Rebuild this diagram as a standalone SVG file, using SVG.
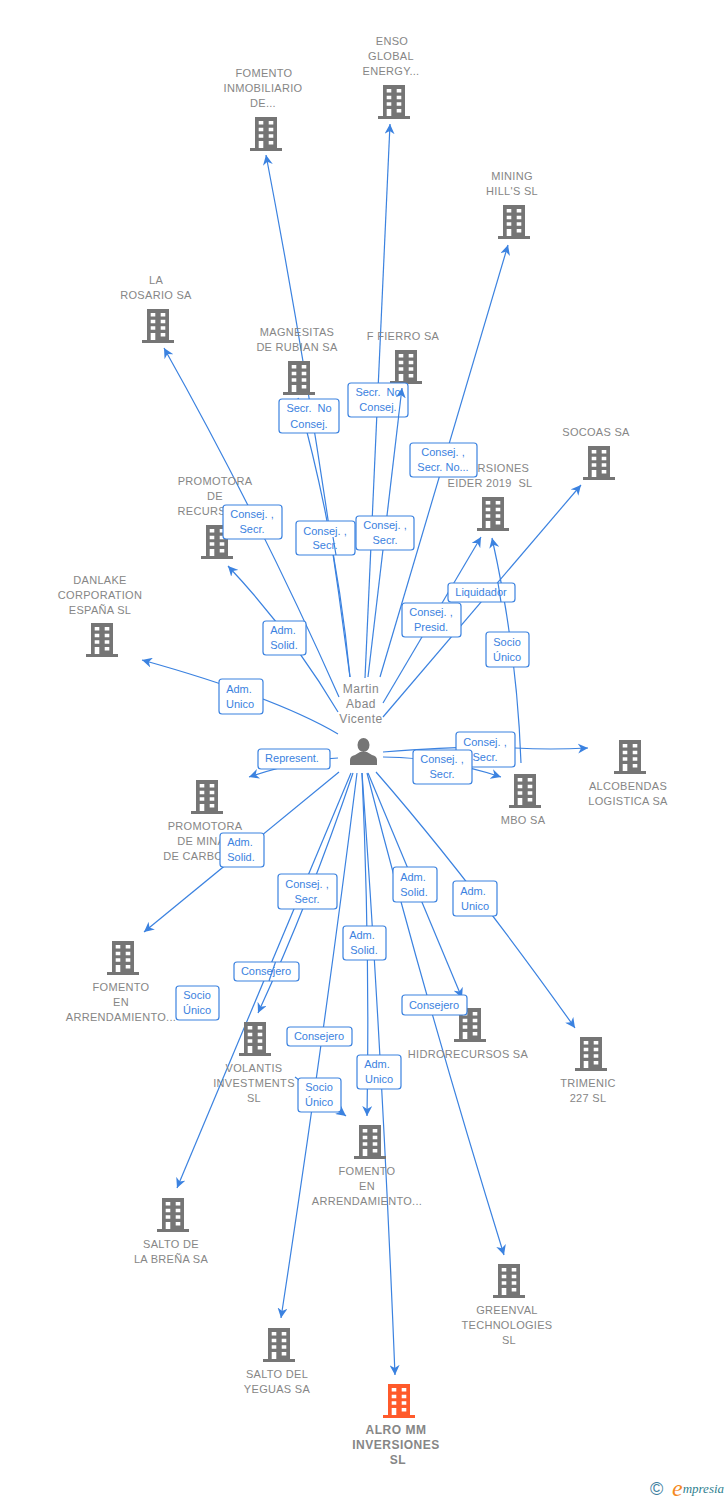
<svg xmlns="http://www.w3.org/2000/svg" width="728" height="1500" viewBox="0 0 728 1500">
<style>
.e{fill:none;stroke:#3b82e0;stroke-width:1.2;marker-end:url(#a)}
.s{fill:none;stroke:#3b82e0;stroke-width:1.2}
.l rect{fill:#fff;stroke:#3b82e0;stroke-width:1.2}
.l text{font:11px "Liberation Sans",Arial,sans-serif;fill:#3b82e0;text-anchor:middle;white-space:pre}
.n text{font:11px "Liberation Sans",Arial,sans-serif;fill:#868686;text-anchor:middle;letter-spacing:.3px;white-space:pre}
.n use{fill:#757575}
#alro text{font-weight:bold;font-size:12px;letter-spacing:.5px}
#alro use{fill:#ff5a2b}
#person text{font-size:12px;letter-spacing:.5px}
#person .p{fill:#757575}
</style>
<defs>
<marker id="a" markerUnits="userSpaceOnUse" markerWidth="11" markerHeight="10" refX="10" refY="5" orient="auto"><path d="M10,5 L0,0 L3,5 L0,10 z" fill="#3b82e0"/></marker>
<symbol id="b" width="32" height="34" viewBox="0 0 32 34" overflow="visible">
<path d="M5,0H27V31H32V34H0V31H5Z"/>
<path fill="#fff" d="M8.700,4h4.600v3.500h-4.600zM18.700,4h4.600v3.500h-4.600zM8.700,10.700h4.600v3.500h-4.600zM18.700,10.700h4.600v3.500h-4.600zM8.700,17.300h4.600v3.500h-4.600zM18.700,17.300h4.600v3.500h-4.600zM18.700,24h4.600v3.500h-4.600zM8.700,24h4.600v7h-4.600z"/>
</symbol>
</defs>
<g id="connectors">
<path class="e" d="M365,678 L390,124"/>
<path class="e" d="M368,677 L402,388"/>
<path class="e" d="M350,677 Q316,416 266,155"/>
<path class="e" d="M350,677 Q337,540 298,398"/>
<path class="e" d="M339,697 Q259,517 164,348"/>
<path class="e" d="M338,712 Q291,633 228,566"/>
<path class="e" d="M338,734 Q275,697 142,660"/>
<path class="e" d="M338,758 Q300,760 249,777"/>
<path class="e" d="M339,772 L144,932"/>
<path class="e" d="M383,757 Q440,757 501,777"/>
<path class="e" d="M383,752 Q470,745 515,748 Q550,750 588,748"/>
<path class="e" d="M380,677 L508,245"/>
<path class="e" d="M383,703 L481,537"/>
<path class="e" d="M383,717 L581,485"/>
<path class="e" d="M521,763 Q517,650 492,538"/>
<path class="e" d="M376,772 Q470,880 575,1028"/>
<path class="e" d="M368,773 L462,998"/>
<path class="e" d="M367,773 Q425,1000 504,1255"/>
<path class="e" d="M362,773 Q382,1050 395,1375"/>
<path class="e" d="M362,773 Q370,950 367,1116"/>
<path class="e" d="M357,773 Q325,1030 281,1318"/>
<path class="e" d="M295,1077 L346,1116"/>
<path class="e" d="M353,773 Q310,900 258,1013"/>
<path class="e" d="M351,773 L177,1188"/>
</g>
<g id="nodes">
<g class="n" id="enso"><use href="#b" x="378" y="85"/><text x="392" y="45">ENSO</text><text x="391" y="60">GLOBAL</text><text x="391" y="75">ENERGY...</text></g>
<g class="n" id="fomento-inmob"><use href="#b" x="250" y="117"/><text x="264" y="77">FOMENTO</text><text x="263" y="92">INMOBILIARIO</text><text x="263" y="107">DE...</text></g>
<g class="n" id="mining"><use href="#b" x="498" y="205"/><text x="512" y="180">MINING</text><text x="512" y="195">HILL'S SL</text></g>
<g class="n" id="rosario"><use href="#b" x="142" y="309"/><text x="156" y="284">LA</text><text x="156" y="299">ROSARIO SA</text></g>
<g class="n" id="magnesitas"><use href="#b" x="283" y="361"/><text x="297" y="336">MAGNESITAS</text><text x="297" y="351">DE RUBIAN SA</text></g>
<g class="n" id="fierro"><use href="#b" x="390" y="350"/><text x="403" y="340">F FIERRO SA</text></g>
<g class="n" id="eider"><use href="#b" x="477" y="497"/><text x="490" y="472">INVERSIONES</text><text x="490" y="487">EIDER 2019  SL</text></g>
<g class="n" id="socoas"><use href="#b" x="583" y="446"/><text x="596" y="436">SOCOAS SA</text></g>
<g class="n" id="recursos"><use href="#b" x="201" y="525"/><text x="215" y="485">PROMOTORA</text><text x="215" y="500">DE</text><text x="215" y="515">RECURSOS...</text></g>
<g class="n" id="danlake"><use href="#b" x="86" y="623"/><text x="100" y="584">DANLAKE</text><text x="100" y="599">CORPORATION</text><text x="100" y="614">ESPAÑA SL</text></g>
<g class="n" id="alcobendas"><use href="#b" x="614" y="740"/><text x="628" y="790">ALCOBENDAS</text><text x="628" y="805">LOGISTICA SA</text></g>
<g class="n" id="mbo"><use href="#b" x="509" y="774"/><text x="523" y="824">MBO SA</text></g>
<g class="n" id="minas"><use href="#b" x="191" y="780"/><text x="205" y="830">PROMOTORA</text><text x="205" y="845">DE MINAS</text><text x="205" y="860">DE CARBONES</text></g>
<g class="n" id="arrend1"><use href="#b" x="107" y="941"/><text x="121" y="991">FOMENTO</text><text x="121" y="1006">EN</text><text x="121" y="1021">ARRENDAMIENTO...</text></g>
<g class="n" id="volantis"><use href="#b" x="239" y="1022"/><text x="254" y="1072">VOLANTIS</text><text x="254" y="1087">INVESTMENTS</text><text x="254" y="1102">SL</text></g>
<g class="n" id="hidro"><use href="#b" x="454" y="1008"/><text x="468" y="1058">HIDRORECURSOS SA</text></g>
<g class="n" id="trimenic"><use href="#b" x="575" y="1037"/><text x="588" y="1087">TRIMENIC</text><text x="588" y="1102">227 SL</text></g>
<g class="n" id="arrend2"><use href="#b" x="354" y="1125"/><text x="367" y="1175">FOMENTO</text><text x="367" y="1190">EN</text><text x="367" y="1205">ARRENDAMIENTO...</text></g>
<g class="n" id="brena"><use href="#b" x="157" y="1198"/><text x="171" y="1248">SALTO DE</text><text x="171" y="1263">LA BREÑA SA</text></g>
<g class="n" id="greenval"><use href="#b" x="493" y="1264"/><text x="507" y="1314">GREENVAL</text><text x="507" y="1329">TECHNOLOGIES</text><text x="509" y="1344">SL</text></g>
<g class="n" id="yeguas"><use href="#b" x="263" y="1328"/><text x="277" y="1378">SALTO DEL</text><text x="277" y="1393">YEGUAS SA</text></g>
<g class="n" id="alro"><use href="#b" x="383" y="1384"/><text x="396" y="1434">ALRO MM</text><text x="396" y="1449">INVERSIONES</text><text x="398" y="1464">SL</text></g>
<g class="n" id="person"><text x="361" y="693">Martin</text><text x="361" y="708">Abad</text><text x="361" y="723">Vicente</text><ellipse class="p" cx="363.500" cy="745" rx="6" ry="7"/><path class="p" d="M350,765V760Q350,756 355,755L360,752H367L372,755Q377,756 377,760V765Z"/></g>
</g>
<g id="edge-labels">
<g class="l"><rect x="279" y="399" width="60" height="34" rx="3"/><text x="309" y="412">Secr.  No</text><text x="309" y="428">Consej.</text></g>
<g class="l"><rect x="348" y="383" width="60" height="34" rx="3"/><text x="378" y="396">Secr.  No</text><text x="378" y="411">Consej.</text></g>
<g class="l"><rect x="410" y="443" width="67" height="34" rx="3"/><text x="443" y="456">Consej. ,</text><text x="443" y="471">Secr. No...</text></g>
<g class="l"><rect x="223" y="505" width="59" height="34" rx="3"/><text x="252" y="518">Consej. ,</text><text x="252" y="533">Secr.</text></g>
<g class="l"><rect x="296" y="521" width="59" height="34" rx="3"/><text x="325" y="535">Consej. ,</text><text x="325" y="549">Secr.</text></g>
<g class="l"><rect x="356" y="516" width="58" height="34" rx="3"/><text x="385" y="529">Consej. ,</text><text x="385" y="544">Secr.</text></g>
<g class="l"><rect x="263" y="621" width="43" height="34" rx="3"/><text x="283" y="634">Adm.</text><text x="284" y="649">Solid.</text></g>
<g class="l"><rect x="448" y="583" width="67" height="19" rx="3"/><text x="481" y="596">Liquidador</text></g>
<g class="l"><rect x="402" y="603" width="59" height="34" rx="3"/><text x="431" y="616">Consej. ,</text><text x="431" y="631">Presid.</text></g>
<g class="l"><rect x="486" y="632" width="43" height="35" rx="3"/><text x="507" y="646">Socio</text><text x="507" y="661">Único</text></g>
<g class="l"><rect x="219" y="679" width="44" height="35" rx="3"/><text x="239" y="693">Adm.</text><text x="240" y="708">Unico</text></g>
<g class="l"><rect x="258" y="749" width="72" height="20" rx="3"/><text x="292" y="762">Represent.</text></g>
<g class="l"><rect x="456" y="732" width="59" height="35" rx="3"/><text x="485" y="746">Consej. ,</text><text x="485" y="761">Secr.</text></g>
<g class="l"><rect x="413" y="750" width="59" height="34" rx="3"/><text x="442" y="763">Consej. ,</text><text x="442" y="778">Secr.</text></g>
<g class="l"><rect x="220" y="833" width="44" height="34" rx="3"/><text x="240" y="846">Adm.</text><text x="241" y="861">Solid.</text></g>
<g class="l"><rect x="278" y="874" width="59" height="35" rx="3"/><text x="307" y="888">Consej. ,</text><text x="307" y="903">Secr.</text></g>
<g class="l"><rect x="393" y="867" width="44" height="35" rx="3"/><text x="413" y="881">Adm.</text><text x="414" y="896">Solid.</text></g>
<g class="l"><rect x="453" y="881" width="44" height="35" rx="3"/><text x="473" y="895">Adm.</text><text x="475" y="910">Unico</text></g>
<g class="l"><rect x="343" y="926" width="43" height="34" rx="3"/><text x="362" y="939">Adm.</text><text x="364" y="954">Solid.</text></g>
<g class="l"><rect x="234" y="962" width="65" height="19" rx="3"/><text x="266" y="975">Consejero</text></g>
<g class="l"><rect x="176" y="986" width="43" height="34" rx="3"/><text x="197" y="999">Socio</text><text x="197" y="1014">Único</text></g>
<g class="l"><rect x="287" y="1027" width="65" height="19" rx="3"/><text x="319" y="1040">Consejero</text></g>
<g class="l"><rect x="298" y="1078" width="43" height="34" rx="3"/><text x="319" y="1091">Socio</text><text x="319" y="1106">Único</text></g>
<g class="l"><rect x="357" y="1055" width="44" height="34" rx="3"/><text x="377" y="1068">Adm.</text><text x="379" y="1083">Unico</text></g>
<g class="l"><rect x="402" y="995" width="65" height="20" rx="3"/><text x="434" y="1009">Consejero</text></g>
</g>
<g id="connectors-over">
<path class="e" d="M398.500,417 L402,388"/>
<path class="s" d="M333,537 L336,555"/>
<path class="s" d="M275.500,962 L269,981"/>
<path class="s" d="M498,583 L501,602"/>
</g>
<g id="credit">
<text x="650" y="1495" font-family="'Liberation Sans',Arial,sans-serif" font-size="18" fill="#3f7f9f">©</text>
<text x="672" y="1493" font-family="'Liberation Serif','Times New Roman',serif" font-style="italic" font-size="13" fill="#2f7f8f"><tspan font-size="24" dy="3" fill="#f58a1f">e</tspan><tspan dy="-3">mpresia</tspan></text>
</g>
</svg>
